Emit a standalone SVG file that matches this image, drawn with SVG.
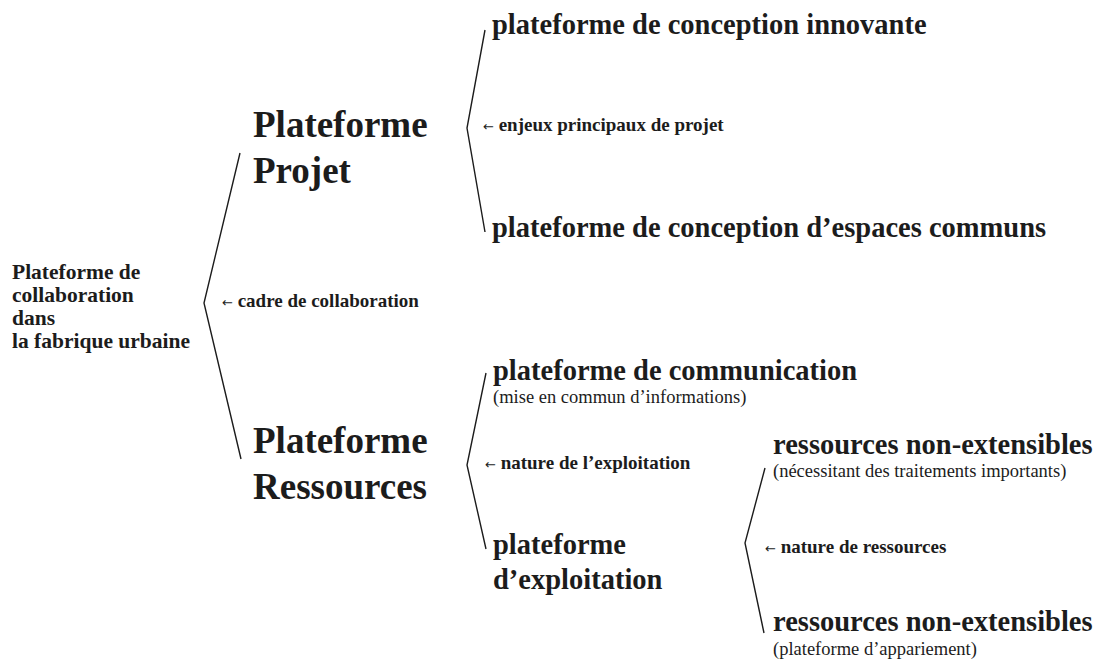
<svg xmlns="http://www.w3.org/2000/svg" width="1098" height="661" viewBox="0 0 1098 661">
<style>
text{font-family:"Liberation Serif","DejaVu Serif",serif;fill:#1c1c1c}
.l1{font-size:21.5px;font-weight:bold}
.l2{font-size:37px;font-weight:bold}
.l3{font-size:28.5px;font-weight:bold}
.lab{font-size:19px;font-weight:bold}
.arr{font-family:"DejaVu Sans",sans-serif;font-size:13px;font-weight:normal}
.sub{font-size:18.5px}
.br{fill:none;stroke:#1c1c1c;stroke-width:1.4}
</style>
<rect width="1098" height="661" fill="#ffffff"/>
<g id="connectors">
<polyline class="br" points="240,153 204,303 241,459"/>
<polyline class="br" points="485,30 467,128 485,232"/>
<polyline class="br" points="486,373 467,465 486,549"/>
<polyline class="br" points="765,468 745,543 764,633"/>
</g>
<g id="root">
<text class="l1" x="12" y="279">Plateforme de</text>
<text class="l1" x="12" y="302">collaboration</text>
<text class="l1" x="12" y="325">dans</text>
<text class="l1" x="12" y="348">la fabrique urbaine</text>
</g>
<g id="label-cadre"><text class="lab" x="222" y="307"><tspan class="arr">←</tspan> cadre de collaboration</text></g>
<g id="projet">
<text class="l2" x="253" y="137">Plateforme</text>
<text class="l2" x="253" y="183">Projet</text>
</g>
<g id="ressources">
<text class="l2" x="253" y="453">Plateforme</text>
<text class="l2" x="253" y="499">Ressources</text>
</g>
<g id="innovante"><text class="l3" x="492" y="34">plateforme de conception innovante</text></g>
<g id="label-enjeux"><text class="lab" x="483" y="131"><tspan class="arr">←</tspan> enjeux principaux de projet</text></g>
<g id="communs"><text class="l3" x="492" y="237">plateforme de conception d’espaces communs</text></g>
<g id="communication">
<text class="l3" x="493" y="380">plateforme de communication</text>
<text class="sub" x="493" y="403">(mise en commun d’informations)</text>
</g>
<g id="label-exploitation"><text class="lab" x="485" y="469"><tspan class="arr">←</tspan> nature de l’exploitation</text></g>
<g id="exploitation">
<text class="l3" x="493" y="554">plateforme</text>
<text class="l3" x="493" y="589">d’exploitation</text>
</g>
<g id="res1">
<text class="l3" x="773" y="454">ressources non-extensibles</text>
<text class="sub" x="773" y="477">(nécessitant des traitements importants)</text>
</g>
<g id="label-ressources"><text class="lab" x="765" y="553"><tspan class="arr">←</tspan> nature de ressources</text></g>
<g id="res2">
<text class="l3" x="773" y="631">ressources non-extensibles</text>
<text class="sub" x="773" y="655">(plateforme d’appariement)</text>
</g>
</svg>
